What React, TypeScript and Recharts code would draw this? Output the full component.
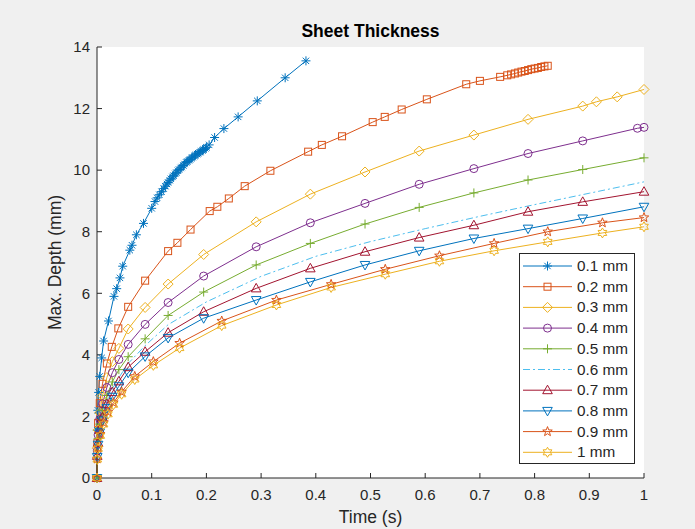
import React from 'react';
import { LineChart, Line, XAxis, YAxis, CartesianGrid } from 'recharts';

const seriesNames = ['0.1 mm', '0.2 mm', '0.3 mm', '0.4 mm', '0.5 mm', '0.6 mm', '0.7 mm', '0.8 mm', '0.9 mm', '1 mm'];
const seriesColors = ['#0072BD', '#D95319', '#EDB120', '#7E2F8E', '#77AC30', '#4DBEEE', '#A2142F', '#0072BD', '#D95319', '#EDB120'];
const seriesMarkers = ['asterisk', 'square', 'diamond', 'circle', 'plus', 'none', 'triangleUp', 'triangleDown', 'pentagram', 'hexagram'];

const xTicks = [0, 0.1, 0.2, 0.3, 0.4, 0.5, 0.6, 0.7, 0.8, 0.9, 1];
const yTicks = [0, 2, 4, 6, 8, 10, 12, 14];

const time01 = [0, 0.0005, 0.0015, 0.003, 0.005, 0.0085, 0.012, 0.021, 0.031, 0.036, 0.042, 0.047, 0.06, 0.064, 0.072, 0.085, 0.1, 0.106, 0.11, 0.114, 0.118, 0.122, 0.125, 0.128, 0.13, 0.133, 0.135, 0.138, 0.14, 0.143, 0.145, 0.148, 0.15, 0.153, 0.155, 0.158, 0.16, 0.163, 0.165, 0.168, 0.17, 0.173, 0.175, 0.178, 0.18, 0.183, 0.185, 0.188, 0.19, 0.193, 0.195, 0.198, 0.2, 0.205, 0.215, 0.232, 0.258, 0.293, 0.344, 0.382];
const depth01 = [0, 1.55, 2.2, 2.78, 3.3, 3.9, 4.45, 5.1, 5.9, 6.15, 6.5, 6.88, 7.4, 7.56, 7.9, 8.27, 8.76, 8.98, 9.1, 9.2, 9.3, 9.4, 9.48, 9.55, 9.6, 9.67, 9.72, 9.78, 9.82, 9.88, 9.92, 9.98, 10.02, 10.07, 10.1, 10.15, 10.2, 10.25, 10.28, 10.32, 10.35, 10.39, 10.42, 10.46, 10.49, 10.52, 10.55, 10.58, 10.61, 10.64, 10.67, 10.71, 10.74, 10.82, 11.06, 11.35, 11.73, 12.25, 13.0, 13.55];

const time02 = [0, 0.0005, 0.002, 0.005, 0.01, 0.018, 0.027, 0.039, 0.057, 0.088, 0.13, 0.147, 0.171, 0.206, 0.22, 0.241, 0.27, 0.317, 0.386, 0.411, 0.448, 0.504, 0.526, 0.557, 0.603, 0.675, 0.7, 0.737, 0.75, 0.757, 0.764, 0.77, 0.776, 0.782, 0.788, 0.794, 0.8, 0.806, 0.812, 0.818, 0.824];
const depth02 = [0, 1.13, 1.79, 2.43, 3.06, 3.72, 4.26, 4.86, 5.56, 6.41, 7.37, 7.64, 8.07, 8.67, 8.81, 9.08, 9.48, 9.98, 10.6, 10.82, 11.1, 11.56, 11.73, 11.97, 12.3, 12.79, 12.9, 13.03, 13.08, 13.11, 13.14, 13.17, 13.2, 13.22, 13.25, 13.28, 13.3, 13.32, 13.35, 13.37, 13.39];

const timeBase = [0, 0.0005, 0.002, 0.005, 0.01, 0.018, 0.028, 0.04, 0.057, 0.088, 0.13, 0.195, 0.291, 0.39, 0.49, 0.589, 0.689, 0.788, 0.888];
const time03 = [...timeBase, 0.913, 0.951, 1.0];
const depth03 = [0, 0.97, 1.56, 2.12, 2.67, 3.26, 3.78, 4.21, 4.84, 5.54, 6.3, 7.26, 8.32, 9.22, 9.94, 10.62, 11.14, 11.65, 12.08, 12.22, 12.38, 12.62];
const time04 = [...timeBase, 0.988, 1.0];
const depth04 = [0, 0.88, 1.4, 1.91, 2.41, 2.94, 3.42, 3.85, 4.34, 4.99, 5.7, 6.56, 7.51, 8.29, 8.92, 9.54, 10.05, 10.54, 10.95, 11.36, 11.39];
const time05 = [...timeBase, 1.0];
const depth05 = [0, 0.8, 1.28, 1.75, 2.2, 2.68, 3.12, 3.52, 3.94, 4.52, 5.28, 6.04, 6.92, 7.62, 8.25, 8.79, 9.26, 9.68, 10.02, 10.4];
const time06 = [0, 0.0005, 0.002, 0.005, 0.01, 0.018, 0.028, 0.04, 0.057, 0.088, 0.13, 0.2, 0.3, 0.4, 0.5, 0.6, 0.7, 0.8, 0.9, 1.0];
const depth06 = [0, 0.75, 1.19, 1.62, 2.05, 2.49, 2.9, 3.26, 3.72, 4.3, 4.98, 5.72, 6.55, 7.2, 7.68, 8.1, 8.5, 8.88, 9.25, 9.62];
const time07 = [...timeBase, 1.0];
const depth07 = [0, 0.72, 1.14, 1.56, 1.97, 2.4, 2.79, 3.14, 3.6, 4.1, 4.72, 5.4, 6.16, 6.81, 7.35, 7.81, 8.21, 8.65, 8.97, 9.3];
const time08 = [...timeBase, 1.0];
const depth08 = [0, 0.68, 1.08, 1.48, 1.87, 2.27, 2.64, 2.98, 3.42, 3.95, 4.55, 5.19, 5.78, 6.37, 6.92, 7.38, 7.78, 8.1, 8.43, 8.81];
const timeThick = [0, 0.0005, 0.002, 0.006, 0.012, 0.02, 0.03, 0.045, 0.069, 0.103, 0.151, 0.228, 0.328, 0.428, 0.527, 0.626, 0.726, 0.824, 0.924, 1.0];
const depth09 = [0, 0.62, 0.98, 1.42, 1.8, 2.15, 2.45, 2.8, 3.3, 3.78, 4.38, 5.1, 5.78, 6.29, 6.78, 7.22, 7.62, 8.0, 8.29, 8.46];
const depth10 = [0, 0.6, 0.95, 1.37, 1.74, 2.07, 2.38, 2.72, 3.2, 3.66, 4.22, 4.95, 5.62, 6.19, 6.62, 7.04, 7.38, 7.67, 7.96, 8.16];

const seriesTimes = [time01, time02, time03, time04, time05, time06, time07, time08, timeThick, timeThick];
const seriesDepths = [depth01, depth02, depth03, depth04, depth05, depth06, depth07, depth08, depth09, depth10];

const seriesData = seriesTimes.map((ts, i) => ts.map((t, j) => ({ t, d: seriesDepths[i][j] })));

const AXIS = '#262626';
const FONT = 'Arial, "Liberation Sans", Helvetica, sans-serif';

function starPoints(cx: number, cy: number, n: number, ro: number, ri: number) {
  const pts: string[] = [];
  for (let k = 0; k < n * 2; k++) {
    const r = k % 2 === 0 ? ro : ri;
    const a = -Math.PI / 2 + (k * Math.PI) / n;
    pts.push(`${cx + r * Math.cos(a)},${cy + r * Math.sin(a)}`);
  }
  return pts.join(' ');
}

function Marker({ shape, cx, cy, color }: { shape: string; cx: number; cy: number; color: string }) {
  if (cx == null || cy == null || isNaN(cx) || isNaN(cy)) return <g />;
  const c = { fill: 'none', stroke: color, strokeWidth: 1 };
  switch (shape) {
    case 'asterisk': {
      const r = 4.5;
      const d = r * 0.7071;
      return (
        <g {...c}>
          <line x1={cx - r} y1={cy} x2={cx + r} y2={cy} />
          <line x1={cx} y1={cy - r} x2={cx} y2={cy + r} />
          <line x1={cx - d} y1={cy - d} x2={cx + d} y2={cy + d} />
          <line x1={cx - d} y1={cy + d} x2={cx + d} y2={cy - d} />
        </g>
      );
    }
    case 'square':
      return <rect {...c} x={cx - 3.5} y={cy - 3.5} width={7} height={7} />;
    case 'diamond':
      return <polygon {...c} points={`${cx},${cy - 5} ${cx + 5},${cy} ${cx},${cy + 5} ${cx - 5},${cy}`} />;
    case 'circle':
      return <circle {...c} cx={cx} cy={cy} r={4} />;
    case 'plus':
      return (
        <g {...c}>
          <line x1={cx - 4.5} y1={cy} x2={cx + 4.5} y2={cy} />
          <line x1={cx} y1={cy - 4.5} x2={cx} y2={cy + 4.5} />
        </g>
      );
    case 'triangleUp':
      return <polygon {...c} points={`${cx},${cy - 5} ${cx + 4.8},${cy + 3.5} ${cx - 4.8},${cy + 3.5}`} />;
    case 'triangleDown':
      return <polygon {...c} points={`${cx},${cy + 5} ${cx + 4.8},${cy - 3.5} ${cx - 4.8},${cy - 3.5}`} />;
    case 'pentagram':
      return <polygon {...c} points={starPoints(cx, cy, 5, 5, 2.1)} />;
    case 'hexagram':
      return <polygon {...c} points={starPoints(cx, cy, 6, 5, 2.9)} />;
    default:
      return <g />;
  }
}

function LegendBox() {
  const rowH = 20.7;
  return (
    <div
      style={{
        position: 'absolute',
        left: 519,
        top: 253,
        width: 116,
        height: 211,
        boxSizing: 'border-box',
        border: `1px solid ${AXIS}`,
        background: '#ffffff',
      }}
    >
      <svg width={114} height={209} style={{ display: 'block' }}>
        {seriesNames.map((name, i) => {
          const y = 12 + i * rowH;
          return (
            <g key={name}>
              <line
                x1={3}
                x2={52}
                y1={y}
                y2={y}
                stroke={seriesColors[i]}
                strokeWidth={1}
                strokeDasharray={seriesMarkers[i] === 'none' ? '7 3 2 3' : undefined}
              />
              <Marker shape={seriesMarkers[i]} cx={27.5} cy={y} color={seriesColors[i]} />
              <text x={57} y={y + 5} fontSize={15.3} fill={AXIS} fontFamily={FONT}>
                {name}
              </text>
            </g>
          );
        })}
      </svg>
    </div>
  );
}

export default function App() {
  return (
    <div
      style={{
        position: 'fixed',
        left: 0,
        top: 0,
        width: 695,
        height: 529,
        background: '#f0f0f0',
        fontFamily: FONT,
      }}
    >
      <LineChart width={695} height={529} margin={{ top: 47, right: 51, bottom: 21, left: 57 }}>
        <CartesianGrid xAxisId="b" yAxisId="l" fill="#ffffff" stroke="none" horizontal={false} vertical={false} />
        <XAxis
          xAxisId="b"
          type="number"
          dataKey="t"
          domain={[0, 1]}
          ticks={xTicks}
          tickSize={-5}
          tickMargin={16}
          height={30}
          stroke={AXIS}
          tick={{ fill: AXIS, fontSize: 15, fontFamily: FONT }}
        />
        <XAxis
          xAxisId="t"
          orientation="top"
          type="number"
          domain={[0, 1]}
          ticks={xTicks}
          tickSize={-5}
          height={0}
          tick={false}
          stroke={AXIS}
        />
        <YAxis
          yAxisId="l"
          type="number"
          domain={[0, 14]}
          ticks={yTicks}
          tickSize={-5}
          tickMargin={12}
          width={40}
          stroke={AXIS}
          tick={{ fill: AXIS, fontSize: 15, fontFamily: FONT }}
        />
        <YAxis
          yAxisId="r"
          orientation="right"
          type="number"
          domain={[0, 14]}
          ticks={yTicks}
          tickSize={-5}
          width={0}
          tick={false}
          stroke={AXIS}
        />
        {seriesData.map((data, i) => (
          <Line
            key={seriesNames[i]}
            xAxisId="b"
            yAxisId="l"
            data={data}
            dataKey="d"
            name={seriesNames[i]}
            type="linear"
            stroke={seriesColors[i]}
            strokeWidth={1}
            strokeDasharray={seriesMarkers[i] === 'none' ? '7 3 2 3' : undefined}
            isAnimationActive={false}
            activeDot={false}
            dot={
              seriesMarkers[i] === 'none'
                ? false
                : (p: any) => (
                    <Marker
                      key={`m-${i}-${p.index}`}
                      shape={seriesMarkers[i]}
                      cx={p.cx}
                      cy={p.cy}
                      color={seriesColors[i]}
                    />
                  )
            }
          />
        ))}
      </LineChart>
      <svg width={695} height={529} style={{ position: 'absolute', left: 0, top: 0, pointerEvents: 'none' }}>
        <text x={370.5} y={37} textAnchor="middle" fontSize={17.5} fontWeight="bold" fill="#000" fontFamily={FONT}>
          Sheet Thickness
        </text>
        <text x={370.5} y={523} textAnchor="middle" fontSize={17.5} fill={AXIS} fontFamily={FONT}>
          Time (s)
        </text>
        <text
          x={0}
          y={0}
          transform="translate(61,262.5) rotate(-90)"
          textAnchor="middle"
          fontSize={17.5}
          fill={AXIS}
          fontFamily={FONT}
        >
          Max. Depth (mm)
        </text>
      </svg>
      <LegendBox />
    </div>
  );
}
